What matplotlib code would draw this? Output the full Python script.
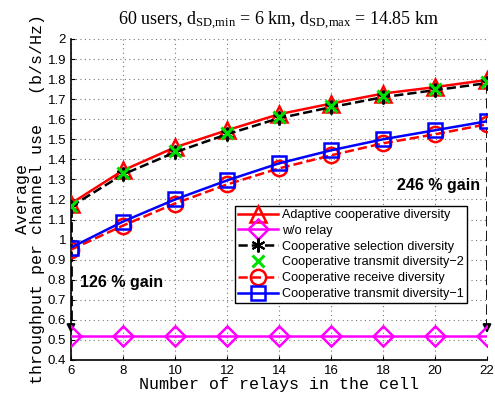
import matplotlib
matplotlib.use("Agg")
import matplotlib.pyplot as plt
from matplotlib.ticker import FuncFormatter

relays = [6, 8, 10, 12, 14, 16, 18, 20, 22]
adaptive = [1.18, 1.345, 1.46, 1.545, 1.625, 1.678, 1.728, 1.76, 1.796]
no_relay = [0.52, 0.52, 0.52, 0.52, 0.52, 0.52, 0.52, 0.52, 0.52]
selection = [1.165, 1.325, 1.435, 1.525, 1.605, 1.66, 1.71, 1.745, 1.78]
transmit2 = [1.17, 1.33, 1.44, 1.53, 1.61, 1.665, 1.715, 1.75, 1.785]
receive = [0.95, 1.07, 1.18, 1.275, 1.355, 1.42, 1.48, 1.525, 1.575]
transmit1 = [0.96, 1.09, 1.2, 1.295, 1.38, 1.445, 1.5, 1.545, 1.59]

labels = ["Adaptive cooperative diversity", "w/o relay",
          "Cooperative selection diversity", "Cooperative transmit diversity\u22122",
          "Cooperative receive diversity", "Cooperative transmit diversity\u22121"]

sans = "Liberation Sans"
mono = "Liberation Mono"
serif = "Liberation Serif"

plt.rcParams['mathtext.fontset'] = 'custom'
plt.rcParams['mathtext.rm'] = serif
plt.rcParams['mathtext.it'] = serif + ':italic'

fig = plt.figure(figsize=(4.95, 3.97), dpi=100)
ax = fig.add_axes([0.1434, 0.0932, 0.8404, 0.8086])

ax.plot(relays, adaptive, '-', color='red', lw=1.8, marker='^', ms=11,
        mfc='none', mew=1.8, label=labels[0], zorder=3)
ax.plot(relays, no_relay, '-', color='magenta', lw=1.8, marker='D', ms=10,
        mfc='none', mew=1.8, label=labels[1], zorder=3)
ax.plot(relays, selection, '--', color='black', lw=1.8, marker=(6, 2, 0), ms=10,
        mew=1.5, label=labels[2], zorder=4)
ax.plot(relays, transmit2, ls='none', color='#00e000', marker='x', ms=9, mew=2.2,
        label=labels[3], zorder=6)
ax.plot(relays, receive, '--', color='red', lw=1.8, marker='o', ms=11,
        mfc='none', mew=1.8, label=labels[4], zorder=3)
ax.plot(relays, transmit1, '-', color='blue', lw=1.8, marker='s', ms=10,
        mfc='none', mew=1.8, label=labels[5], zorder=5)

# gain arrows
for x, top in [(relays[0], selection[0]), (relays[-1], selection[-1])]:
    ax.plot([x, x], [top, no_relay[0] + 0.05], '--', color='black', lw=2, zorder=2)
    ax.annotate('', xy=(x, no_relay[0]), xytext=(x, no_relay[0] + 0.06),
                arrowprops=dict(arrowstyle='-|>', color='black', lw=1.5,
                                mutation_scale=12), zorder=2)

ax.text(6.35, 0.785, "126 % gain", fontsize=11.5, fontweight='bold',
        family=sans, va='center')
ax.text(21.75, 1.272, "246 % gain", fontsize=11.5, fontweight='bold',
        family=sans, va='center', ha='right')

ax.set_xlim(6, 22)
ax.set_ylim(0.4, 2.0)
ax.set_xticks(relays)
ax.set_yticks([0.4 + 0.1 * i for i in range(17)])
ax.yaxis.set_major_formatter(FuncFormatter(lambda v, p: "%g" % round(v, 1)))
ax.tick_params(direction='in', length=3, labelsize=9.5)
for lab in ax.get_xticklabels() + ax.get_yticklabels():
    lab.set_family(sans)
ax.grid(True, linestyle=(0, (1, 3)), color='#777777', lw=0.8)
ax.spines['top'].set_visible(False)
ax.spines['right'].set_visible(False)
ax.spines['left'].set_linewidth(1.2)
ax.spines['bottom'].set_linewidth(1.2)

ax.set_xlabel("Number of relays in the cell", family=mono, fontsize=12, labelpad=0)
ax.set_ylabel("Average\nthroughput per channel use   (b/s/Hz)", family=mono,
              fontsize=12, labelpad=2, linespacing=1.0)
ax.set_title(r"60 users, d$_{\rm SD{,}min}$ = 6 km, d$_{\rm SD{,}max}$ = 14.85 km",
             family=serif, fontsize=13, pad=10)

leg = ax.legend(loc='upper right', bbox_to_anchor=(0.952, 0.48),
                prop={'family': sans, 'size': 9.1},
                frameon=True, fancybox=False, edgecolor='black', framealpha=1,
                borderpad=0.25, labelspacing=0.3, handlelength=3.2,
                handletextpad=0.3, borderaxespad=0)
leg.get_frame().set_linewidth(1.0)

fig.savefig("out.png", dpi=100)
